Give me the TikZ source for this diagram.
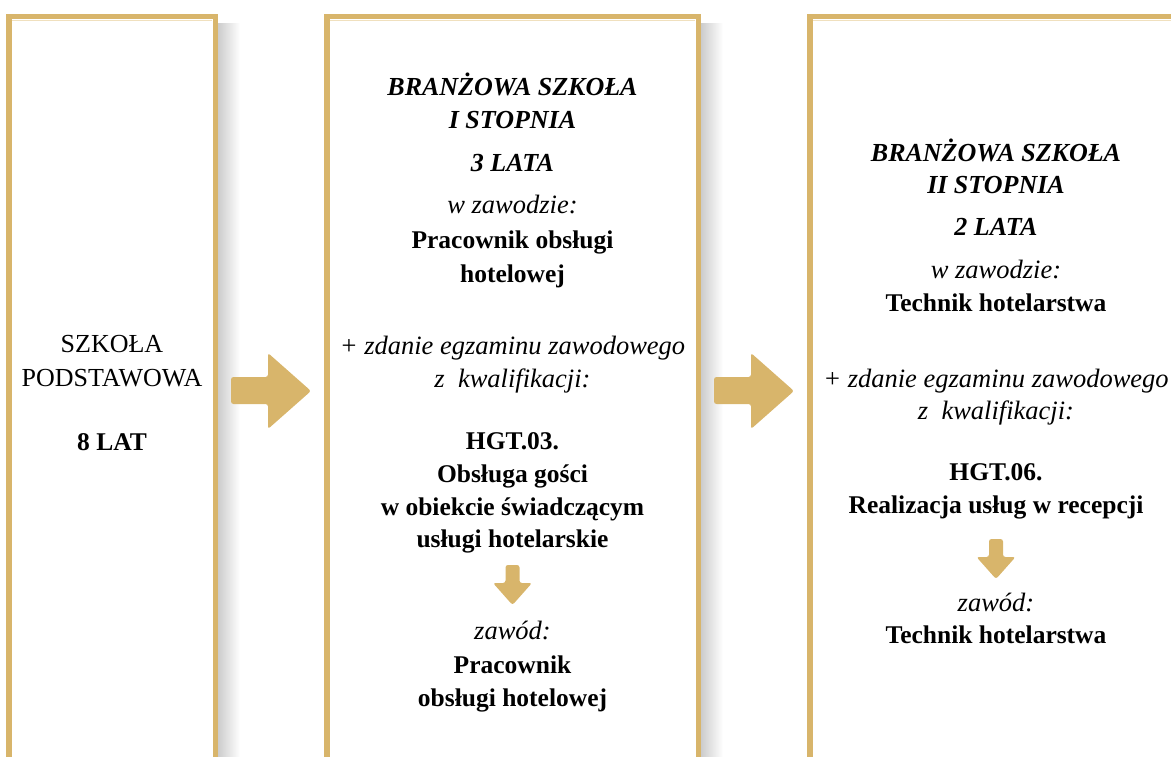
\documentclass[tikz,border=0pt]{standalone}
\usepackage{fontspec}
\setmainfont{Liberation Serif}
\definecolor{gold}{RGB}{216,181,107}
\definecolor{goldlight}{RGB}{240,224,190}
\begin{document}
\begin{tikzpicture}[x=1pt,y=-1pt,
  boxframe/.style={draw=gold,line width=5.5pt},
  txt/.style={anchor=base,inner sep=0pt,font=\fontsize{26}{30}\selectfont},
  bi/.style={txt,font=\fontsize{26}{30}\selectfont\bfseries\itshape},
  it/.style={txt,font=\fontsize{26.5}{30}\selectfont\itshape},
  bf/.style={txt,font=\fontsize{25.5}{30}\selectfont\bfseries},
  goldarrow/.style={fill=gold,rounded corners=2.5pt}]
\useasboundingbox (0,0) rectangle (1171,757);
\clip (0,0) rectangle (1171,757);
% shadows
\foreach \xr in {218,701}{
  \shade[left color=black!20,right color=white] (\xr,24) rectangle (\xr+22,770);
}
% boxes
\draw[boxframe] (8.75,16.75) rectangle (215.25,780);
\draw[boxframe] (326.75,16.75) rectangle (698.25,780);
\draw[boxframe] (809.75,16.75) rectangle (1184,780);
\draw[goldlight,line width=0.8pt] (12,20) -- (212,20);
\draw[goldlight,line width=0.8pt] (330,20) -- (695,20);
\draw[goldlight,line width=0.8pt] (813,20) -- (1171,20);
% right arrows
\foreach \dx in {0,483}{
  \fill[goldarrow] (231+\dx,377) -- (268+\dx,377) -- (268+\dx,353) -- (311+\dx,391)
     -- (268+\dx,429) -- (268+\dx,404) -- (231+\dx,404) -- cycle;
}
% down arrows
\fill[goldarrow] (505.5,565) -- (519.5,565) -- (519.5,583) -- (532,583) -- (512.5,605)
   -- (493,583) -- (505.5,583) -- cycle;
\fill[goldarrow] (989,539) -- (1003,539) -- (1003,557) -- (1015.5,557) -- (996,579)
   -- (976.5,557) -- (989,557) -- cycle;
% box 1
\node[txt] (a1) at (112,352) {SZKOŁA};
\node[txt] (a2) at (112,386) {PODSTAWOWA};
\node[bf]  (a3) at (112,450) {8 LAT};
% box 2
\node[bi] (b1) at (512.5,96) {BRANŻOWA SZKOŁA};
\node[bi] (b2) at (512.5,129) {I STOPNIA};
\node[bi] (b3) at (512.5,172) {3 LATA};
\node[it] (b4) at (512.5,214) {w zawodzie:};
\node[bf] (b5) at (512.5,248) {Pracownik obsługi};
\node[bf] (b6) at (512.5,282) {hotelowej};
\node[it] (b7) at (512.5,354) {+ zdanie egzaminu zawodowego};
\node[it] (b8) at (512.5,387) {z\ \ kwalifikacji:};
\node[bf] (b9) at (512.5,449) {HGT.03.};
\node[bf] (b10) at (512.5,482) {Obsługa gości};
\node[bf] (b11) at (512.5,515) {w obiekcie świadczącym};
\node[bf] (b12) at (512.5,547) {usługi hotelarskie};
\node[it] (b13) at (512.5,639) {zawód:};
\node[bf] (b14) at (512.5,673) {Pracownik};
\node[bf] (b15) at (512.5,706) {obsługi hotelowej};
% box 3
\node[bi] (c1) at (996,162) {BRANŻOWA SZKOŁA};
\node[bi] (c2) at (996,194) {II STOPNIA};
\node[bi] (c3) at (996,236) {2 LATA};
\node[it] (c4) at (996,278) {w zawodzie:};
\node[bf] (c5) at (996,311) {Technik hotelarstwa};
\node[it] (c6) at (996,387) {+ zdanie egzaminu zawodowego};
\node[it] (c7) at (996,419) {z\ \ kwalifikacji:};
\node[bf] (c8) at (996,480) {HGT.06.};
\node[bf] (c9) at (996,513) {Realizacja usług w recepcji};
\node[it] (c10) at (996,611) {zawód:};
\node[bf] (c11) at (996,643) {Technik hotelarstwa};
\end{tikzpicture}
\end{document}
